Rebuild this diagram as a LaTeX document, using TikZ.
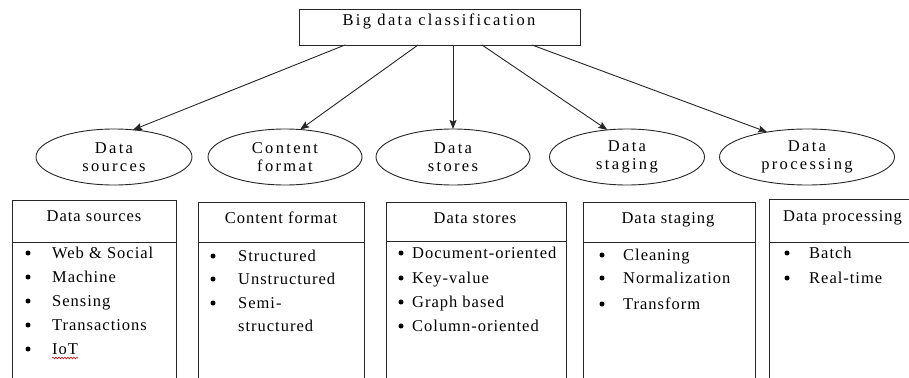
\documentclass[tikz,border=0pt]{standalone}
\usepackage{fontspec}
\setmainfont{Liberation Serif}
\newfontfamily\boxfont[LetterSpace=6]{Liberation Serif}
\newfontfamily\widefont[LetterSpace=14]{Liberation Serif}
\usetikzlibrary{shapes.geometric,arrows.meta,decorations.pathmorphing}
\begin{document}
\begin{tikzpicture}[x=1pt,y=-1pt,
  stroke/.style={draw=black!85,line width=0.9pt},
  oval/.style={ellipse,stroke,minimum height=56pt,inner sep=0pt,outer sep=0pt,align=center,font=\widefont\fontsize{16.5}{18}\selectfont},
  arr/.style={stroke,-{Stealth[length=9pt,width=7pt,inset=1.5pt]}},
  txt/.style={anchor=base west,inner sep=0pt,font=\boxfont\fontsize{16.5}{20}\selectfont},
  hdr/.style={anchor=base,inner sep=0pt,font=\boxfont\fontsize{16.5}{20}\selectfont},
  dot/.style={circle,fill=black,inner sep=0pt,minimum size=5pt}]
\useasboundingbox (0,0) rectangle (909,377);

% top box
\node[stroke,minimum width=281pt,minimum height=36pt,inner sep=0pt,outer sep=0pt] (top) at (439.5,27) {};
\node[anchor=base,inner sep=0pt,font=\widefont\fontsize{16.5}{20}\selectfont] (toplbl) at (439,26) {Big data classification};

% ellipses
\node[oval,minimum width=156pt] (e1) at (114,157) {Data\\sources};
\node[oval,minimum width=154pt] (e2) at (285,157) {Content\\format};
\node[oval,minimum width=154pt] (e3) at (453,157) {Data\\stores};
\node[oval,minimum width=155pt] (e4) at (627,157) {Data\\staging};
\node[oval,minimum width=175pt] (e5) at (807,157) {Data\\processing};

% arrows
\draw[arr] ([xshift=46pt]top.south west) -- (e1.55);
\draw[arr] ([xshift=119pt]top.south west) -- (e2.61);
\draw[arr] (top.south -| e3.north) -- (e3.north);
\draw[arr] ([xshift=183pt]top.south west) -- (e4.126);
\draw[arr] ([xshift=233pt]top.south west) -- (e5.148);

% boxes
\draw[stroke] (12,378) -- (12,200) -- (176,200) -- (176,378);
\draw[stroke] (12,242) -- (176,242);
\draw[stroke] (198,378) -- (198,202) -- (364,202) -- (364,378);
\draw[stroke] (198,242) -- (364,242);
\draw[stroke] (386,378) -- (386,202) -- (566,202) -- (566,378);
\draw[stroke] (386,241) -- (566,241);
\draw[stroke] (583,378) -- (583,202) -- (755,202) -- (755,378);
\draw[stroke] (583,242) -- (755,242);
\draw[stroke] (769,378) -- (769,199) -- (912,199);
\draw[stroke] (769,242) -- (912,242);

% headers
\node[hdr] (h1) at (94,221) {Data sources};
\node[hdr] (h2) at (281,223) {Content format};
\node[hdr] (h3) at (475,223) {Data stores};
\node[hdr] (h4) at (668,223) {Data staging};
\node[txt] (h5) at (783,221) {Data processing};

% Data sources items
\node[dot] (b11) at (28,253) {}; \node[txt] (i11) at (52,258) {Web \& Social};
\node[dot] (b12) at (28,277) {}; \node[txt] (i12) at (52,282) {Machine};
\node[dot] (b13) at (28,301) {}; \node[txt] (i13) at (52,306) {Sensing};
\node[dot] (b14) at (28,325) {}; \node[txt] (i14) at (52,330) {Transactions};
\node[dot] (b15) at (28,349) {}; \node[txt] (i15) at (52,354) {IoT};
\draw[red!85!black,line width=0.6pt,decorate,decoration={snake,amplitude=0.8pt,segment length=3pt}]
  ([yshift=-4pt]i15.base west) -- ([yshift=-4pt]i15.base east);

% Content format items
\node[dot] (b21) at (213,256) {}; \node[txt] (i21) at (238,261) {Structured};
\node[dot] (b22) at (213,279) {}; \node[txt] (i22) at (238,284) {Unstructured};
\node[dot] (b23) at (213,303) {}; \node[txt] (i23) at (238,308) {Semi-};
\node[txt] (i24) at (238,331) {structured};

% Data stores items
\node[dot] (b31) at (401,253) {}; \node[txt] (i31) at (412,258) {Document-oriented};
\node[dot] (b32) at (401,278) {}; \node[txt] (i32) at (412,283) {Key-value};
\node[dot] (b33) at (401,302) {}; \node[txt] (i33) at (412,307) {Graph based};
\node[dot] (b34) at (401,326) {}; \node[txt] (i34) at (412,331) {Column-oriented};

% Data staging items
\node[dot] (b41) at (602,255) {}; \node[txt] (i41) at (623,260) {Cleaning};
\node[dot] (b42) at (602,278) {}; \node[txt] (i42) at (623,283) {Normalization};
\node[dot] (b43) at (602,304) {}; \node[txt] (i43) at (623,309) {Transform};

% Data processing items
\node[dot] (b51) at (787,253) {}; \node[txt] (i51) at (809,258) {Batch};
\node[dot] (b52) at (787,278) {}; \node[txt] (i52) at (809,283) {Real-time};
\end{tikzpicture}
\end{document}
